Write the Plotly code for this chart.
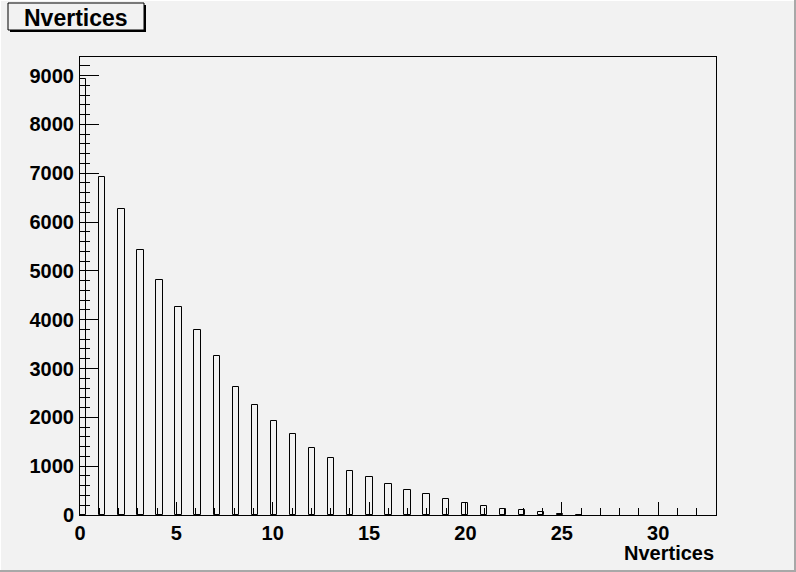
import numpy as np
import plotly.graph_objects as go

# ---- data ----
nvertices = [0, 1, 2, 3, 4, 5, 6, 7, 8, 9, 10, 11, 12, 13, 14, 15, 16, 17, 18, 19, 20, 21, 22, 23, 24, 25, 26]
counts = [8930, 6930, 6270, 5430, 4815, 4265, 3795, 3262, 2630, 2260, 1930, 1665, 1380, 1175, 910, 787, 625, 502, 420, 318, 254, 194, 124, 99, 59, 14, 7]
x_ticks = [0, 5, 10, 15, 20, 25, 30]
y_ticks = [0, 1000, 2000, 3000, 4000, 5000, 6000, 7000, 8000, 9000]
hist_min, hist_max, n_bins = 0.0, 33.0, 100
title_text = "Nvertices"
x_title = "Nvertices"

# ---- geometry ----
W, H = 796, 572
L, R, T, B = 80, 716, 57, 515
bg = "#f2f2f2"
bin_w = (hist_max - hist_min) / n_bins
left_edges = np.floor((np.array(nvertices) - hist_min) / bin_w) * bin_w + hist_min

def px(xp):
    return (xp - L) / (R - L)

def py(yp):
    return (B - yp) / (B - T)

fig = go.Figure()
fig.add_trace(go.Bar(
    x=left_edges, y=counts, width=bin_w, offset=0,
    marker=dict(color="rgba(0,0,0,0)", line=dict(color="black", width=1)),
    showlegend=False,
))

font = dict(family="Liberation Sans, Arial, sans-serif", size=20, color="black", weight="bold")

fig.update_layout(
    width=W, height=H,
    margin=dict(l=L, r=W - R, t=T, b=H - B, pad=0),
    paper_bgcolor=bg, plot_bgcolor=bg,
    bargap=0,
    xaxis=dict(
        range=[hist_min, hist_max], tickvals=x_ticks, ticks="inside", ticklen=13,
        tickcolor="black", tickwidth=1, showgrid=False, zeroline=False,
        showline=True, linecolor="black", linewidth=1, mirror=True,
        tickfont=font, ticklabelstandoff=0,
        minor=dict(dtick=1, ticks="inside", ticklen=7, tickcolor="black", tickwidth=1, showgrid=False),
    ),
    yaxis=dict(
        range=[0, 9380], tickvals=y_ticks, ticks="inside", ticklen=19,
        tickcolor="black", tickwidth=1, showgrid=False, zeroline=False,
        showline=True, linecolor="black", linewidth=1, mirror=True,
        tickfont=font, ticklabelstandoff=1,
        minor=dict(dtick=200, ticks="inside", ticklen=10, tickcolor="black", tickwidth=1, showgrid=False),
    ),
)

shapes = []
# canvas bevel
shapes.append(dict(type="line", xref="paper", yref="paper", x0=px(795), x1=px(795), y0=py(0), y1=py(572), line=dict(color="#a8a8a8", width=2), layer="above"))
shapes.append(dict(type="line", xref="paper", yref="paper", x0=px(0), x1=px(796), y0=py(571), y1=py(571), line=dict(color="#a8a8a8", width=2), layer="above"))
shapes.append(dict(type="line", xref="paper", yref="paper", x0=px(0), x1=px(794), y0=py(0.5), y1=py(0.5), line=dict(color="white", width=1), layer="above"))
shapes.append(dict(type="line", xref="paper", yref="paper", x0=px(0.5), x1=px(0.5), y0=py(0), y1=py(570), line=dict(color="white", width=1), layer="above"))
# title box shadow + box
shapes.append(dict(type="rect", xref="paper", yref="paper", x0=px(10), x1=px(146), y0=py(5), y1=py(32), fillcolor="black", line=dict(width=0), layer="above"))
shapes.append(dict(type="rect", xref="paper", yref="paper", x0=px(8), x1=px(144), y0=py(3), y1=py(30), fillcolor=bg, line=dict(color="black", width=1), layer="above"))
fig.update_layout(shapes=shapes)

fig.add_annotation(text=title_text, xref="paper", yref="paper", x=px(76), y=py(17.5),
                   xanchor="center", yanchor="middle", showarrow=False, font=dict(font, size=23))
fig.add_annotation(text=x_title, xref="paper", yref="paper", x=1, y=py(552.5),
                   xanchor="right", yanchor="middle", showarrow=False, font=dict(font, size=20))

fig.write_html("out.html", config={"displayModeBar": False},
               post_script="document.body.style.margin='0';document.body.style.overflow='hidden';")
